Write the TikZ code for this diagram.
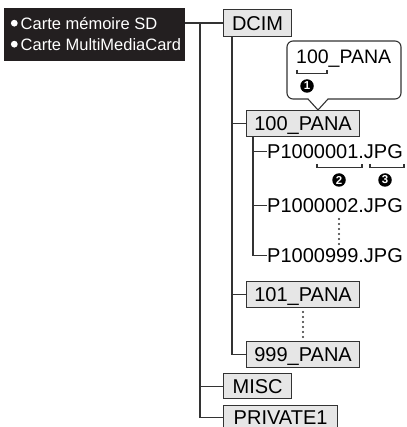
\documentclass[tikz,border=0pt]{standalone}
\usepackage{fontspec}
\setmainfont{Liberation Sans}
\newfontfamily\boldsans{Liberation Sans Bold}
\definecolor{ln}{HTML}{333333}
\definecolor{bx}{HTML}{E6E6E6}
\definecolor{cardbg}{HTML}{231F20}
\begin{document}
\begin{tikzpicture}[x=1pt,y=-1pt,
  conn/.style={draw=ln,line width=1.2pt},
  folder/.style={draw=ln,fill=bx,line width=1.2pt,rectangle,inner sep=0pt,anchor=north west,
     font=\fontsize{20}{24}\selectfont,text height=14.4pt,text depth=0pt},
  fname/.style={inner sep=0pt,anchor=base west,font=\fontsize{20}{24}\selectfont,text height=14.4pt,text depth=0pt},
  cardtxt/.style={inner sep=0pt,anchor=base west,text=white,font=\fontsize{16.5}{20}\selectfont},
  num/.style={circle,fill=black,text=white,inner sep=0pt,minimum size=13.5pt,font=\boldsans\fontsize{11.5}{11.5}\selectfont},
  brk/.style={draw=ln,line width=1.1pt}
]
\clip (0,0) rectangle (406,427);
\fill[white] (0,0) rectangle (406,427);

% memory card label
\node[fill=cardbg,anchor=north west,minimum width=181pt,minimum height=53pt,inner sep=0pt] (card) at (4,8) {};
\fill[white] (14.3,23.2) circle (3.4pt);
\fill[white] (14.3,44.2) circle (3.4pt);
\node[cardtxt] (c1) at (20.5,29.3) {Carte mémoire SD};
\node[cardtxt] (c2) at (20.5,50.3) {Carte MultiMediaCard};

% folders
\node[folder,minimum width=68pt,minimum height=27pt] (dcim) at (223,9) {DCIM};
\node[folder,minimum width=113pt,minimum height=26pt] (p100) at (246,110) {100\_PANA};
\node[folder,minimum width=113pt,minimum height=26pt] (p101) at (246,281) {101\_PANA};
\node[folder,minimum width=113pt,minimum height=26pt] (p999) at (246,341) {999\_PANA};
\node[folder,minimum width=68pt,minimum height=25pt] (misc) at (223,373) {MISC};
\node[folder,minimum width=114pt,minimum height=24pt] (priv) at (223,405) {PRIVATE1};

% files
\node[fname] (f1) at (267,158.5) {P1000001.JPG};
\node[fname] (f2) at (267,212.7) {P1000002.JPG};
\node[fname] (f3) at (267,262.7) {P1000999.JPG};

% trunk connectors
\coordinate (tr) at (200,0);
\draw[conn] (card.east |- dcim.west) -- (dcim.west);
\draw[conn] (tr |- dcim.west) |- (priv.west);
\draw[conn] (tr |- misc.west) -- (misc.west);

% DCIM branch
\coordinate (db) at (232,0);
\draw[conn] (db |- dcim.south) |- (p999.west);
\draw[conn] (db |- p100.west) -- (p100.west);
\draw[conn] (db |- p101.west) -- (p101.west);

% file branch
\coordinate (fb) at (253,0);
\draw[conn] (fb |- p100.south) |- (f3.west);
\draw[conn] (fb |- f1.west) -- (f1.west);
\draw[conn] (fb |- f2.west) -- (f2.west);

% vertical dots
\foreach \y in {219,224,229,234,239,244} \fill[ln] (339,\y) circle (1.2pt);
\foreach \y in {312,317,322,327,332,337} \fill[ln] (303,\y) circle (1.2pt);

% callout
\coordinate (tip) at (p100.north -| 318,0);
\draw[conn,line width=1.1pt] (tip) -- (328,99) [rounded corners=6pt] -- (401,99) -- (401,41) -- (287,41) -- (287,99) [sharp corners] -- (308,99) -- cycle;
\node[fname,font=\fontsize{19.5}{24}\selectfont] (ct) at (296,63.5) {100\_PANA};
\draw[brk] (297,70) -- (297,73.5) -- (327,73.5) -- (327,70);
\node[num] (n1) at (307,86) {1};

% brackets under file name
\draw[brk] (317,164) -- (317,167.5) -- (362,167.5) -- (362,164);
\draw[brk] (370,164) -- (370,167.5) -- (404,167.5) -- (404,164);
\node[num] (n2) at (339,180) {2};
\node[num] (n3) at (385,180) {3};
\end{tikzpicture}
\end{document}
